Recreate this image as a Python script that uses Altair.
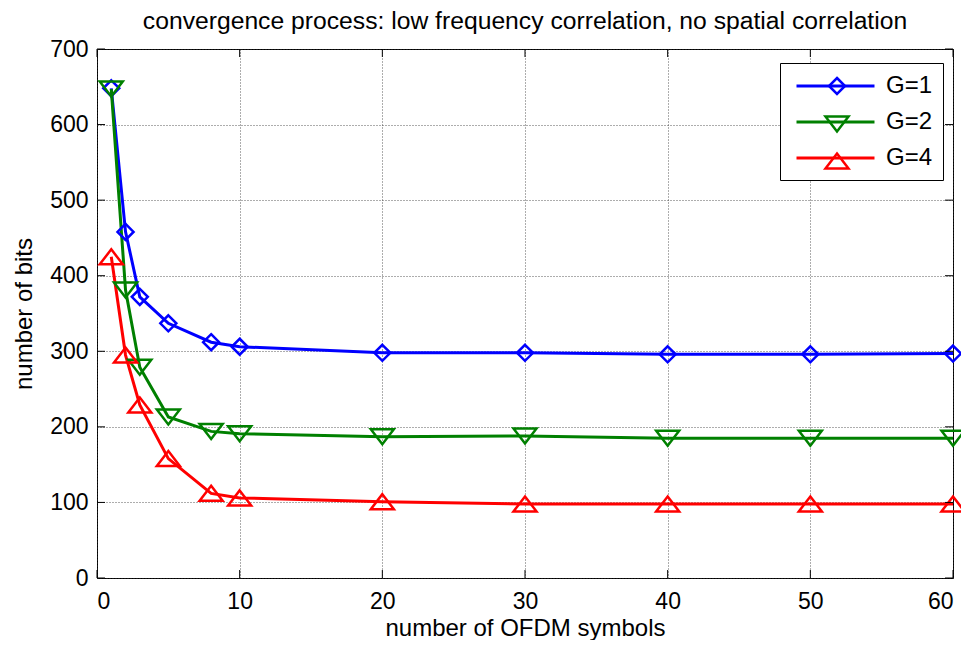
import altair as alt
import pandas as pd

x_vals = [1, 2, 3, 5, 8, 10, 20, 30, 40, 50, 60]
g1 = [648, 458, 372, 337, 312, 306, 298, 298, 296, 296, 297]
g2 = [647, 381, 279, 213, 194, 191, 187, 188, 185, 185, 185]
g4 = [425, 295, 229, 158, 112, 106, 101, 98, 98, 98, 98]
series_names = ["G=1", "G=2", "G=4"]
series_colors = ["#0000ff", "#008000", "#ff0000"]
x_ticks = [0, 10, 20, 30, 40, 50, 60]
y_ticks = [0, 100, 200, 300, 400, 500, 600, 700]

FONT = "Liberation Sans"
FS = 24
TTS = 24.7
TFS = 23
W, H = 856, 529

rows = []
for name, vals in zip(series_names, [g1, g2, g4]):
    for xv, yv in zip(x_vals, vals):
        rows.append({"x": xv, "y": yv, "G": name})
df = pd.DataFrame(rows)

# marker paths
diamond = "M0,-0.696L0.696,0L0,0.696L-0.696,0Z"
tri_down = "M-1,-0.652L1,-0.652L0,0.652Z"
tri_up = "M0,-0.652L1,0.652L-1,0.652Z"
MSIZE = 529  # r = 11.5 px
legend_line = "M-0.565,0H6.217"

legend_lines = alt.Legend(
    title=None, orient="none", legendX=683, legendY=14,
    fillColor="white", strokeColor="black", padding=10,
    labelFont=FONT, labelFontSize=FS, labelColor="black", labelOffset=70,
    rowPadding=11, symbolType=legend_line, symbolSize=MSIZE, symbolStrokeWidth=3,
    zindex=1,
)
legend_marks = alt.Legend(
    title=None, orient="none", legendX=717, legendY=14, padding=10,
    labelFont=FONT, labelFontSize=FS, labelExpr="' '", labelOffset=70,
    rowPadding=11, symbolSize=MSIZE, symbolStrokeWidth=2.5,
    symbolFillColor="transparent", zindex=2,
)

xscale = alt.Scale(domain=[0, 60], nice=False, zero=False)
yscale = alt.Scale(domain=[0, 700], nice=False)
cscale = alt.Scale(domain=series_names, range=series_colors)
sscale = alt.Scale(domain=series_names, range=[diamond, tri_down, tri_up])

xaxis = alt.Axis(
    values=x_ticks, title="number of OFDM symbols", grid=True, ticks=False, tickSize=0,
    domain=False, labelPadding=12, titlePadding=3,
)
yaxis = alt.Axis(
    values=y_ticks, title="number of bits", grid=True, ticks=False, tickSize=0,
    domain=False, labelPadding=9, titlePadding=13,
)

base = alt.Chart(df)
lines = base.mark_line(strokeWidth=3).encode(
    x=alt.X("x:Q", scale=xscale, axis=xaxis),
    y=alt.Y("y:Q", scale=yscale, axis=yaxis),
    color=alt.Color("G:N", scale=cscale, legend=legend_lines),
    detail="G:N",
)
points = base.mark_point(filled=False, strokeWidth=2.5, size=MSIZE, opacity=1, clip=False).encode(
    x=alt.X("x:Q", scale=xscale, axis=xaxis),
    y=alt.Y("y:Q", scale=yscale, axis=yaxis),
    color=alt.Color("G:N", scale=cscale, legend=legend_marks),
    shape=alt.Shape("G:N", scale=sscale, legend=legend_marks),
)

ytick_df = pd.DataFrame({"v": y_ticks})
xtick_df = pd.DataFrame({"v": x_ticks})
yt_left = alt.Chart(ytick_df).mark_rule(color="black", strokeWidth=1).encode(
    y=alt.Y("v:Q", scale=yscale, axis=yaxis), x=alt.value(0), x2=alt.value(8))
yt_right = alt.Chart(ytick_df).mark_rule(color="black", strokeWidth=1).encode(
    y=alt.Y("v:Q", scale=yscale, axis=yaxis), x=alt.value(W - 8), x2=alt.value(W))
xt_bot = alt.Chart(xtick_df).mark_rule(color="black", strokeWidth=1).encode(
    x=alt.X("v:Q", scale=xscale, axis=xaxis), y=alt.value(H), y2=alt.value(H - 8))
xt_top = alt.Chart(xtick_df).mark_rule(color="black", strokeWidth=1).encode(
    x=alt.X("v:Q", scale=xscale, axis=xaxis), y=alt.value(0), y2=alt.value(8))

chart = alt.layer(lines, points, yt_left, yt_right, xt_bot, xt_top).resolve_legend(
    color="independent", shape="independent"
).properties(
    width=W,
    height=H,
    background="white",
    autosize=alt.AutoSizeParams(type="none"),
    padding={"left": 89, "top": 41, "right": 8, "bottom": 62},
    title=alt.TitleParams(
        "convergence process: low frequency correlation, no spatial correlation",
        font=FONT, fontSize=TTS, fontWeight="normal", color="black",
        anchor="middle", offset=4,
    ),
).configure_view(
    stroke="black", strokeWidth=1
).configure_axis(
    labelFont=FONT, labelFontSize=TFS, labelColor="black",
    titleFont=FONT, titleFontSize=FS, titleFontWeight="normal", titleColor="black",
    gridColor="#333333", gridDash=[1, 2], gridWidth=1, gridOpacity=0.8,
)

chart.save("out.html", embed_options={"renderer": "svg", "actions": False})
